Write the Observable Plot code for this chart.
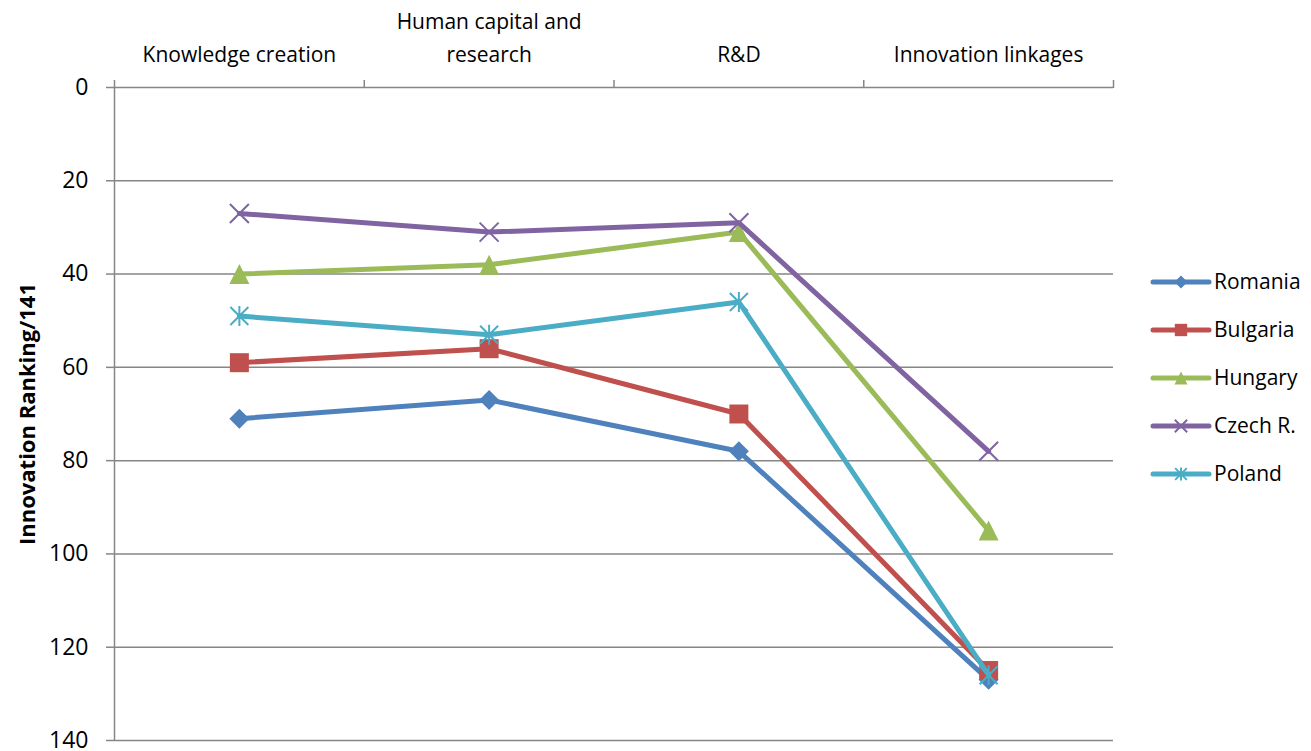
<!DOCTYPE html>
<html>
<head>
<meta charset="utf-8">
<script src="https://cdn.jsdelivr.net/npm/d3@7"></script>
<script src="https://cdn.jsdelivr.net/npm/@observablehq/plot@0.6"></script>
<style>
  html, body { margin: 0; padding: 0; background: #fff; }
  #wrap { position: relative; width: 1311px; height: 751px; font-family: "Open Sans", Lato, sans-serif; }
  #legend { position: absolute; left: 1140px; top: 258px; }
</style>
</head>
<body>
<div id="wrap"></div>
<script>
// ---- data ----
const categories = ["Knowledge creation", "Human capital and\nresearch", "R&D", "Innovation linkages"];
const countries = ["Romania", "Bulgaria", "Hungary", "Czech R.", "Poland"];
const romania  = [71, 67, 78, 127];
const bulgaria = [59, 56, 70, 125];
const hungary  = [40, 38, 31, 95];
const czech    = [27, 31, 29, 78];
const poland   = [49, 53, 46, 126];
const yTicks = [0, 20, 40, 60, 80, 100, 120, 140];
const colors = ["#4F81BD", "#C0504D", "#9BBB59", "#8064A2", "#4BACC6"];

const seriesValues = [romania, bulgaria, hungary, czech, poland];
const rows = seriesValues.flatMap((vals, s) =>
  vals.map((v, i) => ({country: countries[s], pos: i + 0.5, value: v})));

// ---- custom Excel-like marker shapes ----
const rad = size => Math.sqrt(size / Math.PI);
const symDiamond = {draw(c, size) { const r = rad(size); c.moveTo(0, -r); c.lineTo(r, 0); c.lineTo(0, r); c.lineTo(-r, 0); c.closePath(); }};
const symSquare = {draw(c, size) { const r = rad(size) * 0.95; c.moveTo(-r, -r); c.lineTo(r, -r); c.lineTo(r, r); c.lineTo(-r, r); c.closePath(); }};
const symTriangle = {draw(c, size) { const r = rad(size); c.moveTo(0, -r); c.lineTo(r, r); c.lineTo(-r, r); c.closePath(); }};
const symTimes = {draw(c, size) { const a = rad(size) * 0.95; c.moveTo(-a, -a); c.lineTo(a, a); c.moveTo(a, -a); c.lineTo(-a, a); }};
const symStar = {draw(c, size) { const r = rad(size); const a = r * 0.9; c.moveTo(-a, -a); c.lineTo(a, a); c.moveTo(a, -a); c.lineTo(-a, a); c.moveTo(0, -r); c.lineTo(0, r); }};
const symbols = [symDiamond, symSquare, symTriangle, symTimes, symStar];
const filled = [true, true, true, false, false];

const seriesMarks = countries.flatMap((name, s) => {
  const data = rows.filter(d => d.country === name);
  return [
    Plot.line(data, {x: "pos", y: "value", stroke: colors[s], strokeWidth: 5, strokeLinejoin: "round", strokeLinecap: "round"}),
    filled[s]
      ? Plot.dot(data, {x: "pos", y: "value", r: 10, symbol: symbols[s], fill: colors[s], stroke: "none"})
      : Plot.dot(data, {x: "pos", y: "value", r: 10, symbol: symbols[s], fill: "none", stroke: colors[s], strokeWidth: 2})
  ];
});

const font = "'Open Sans', Lato, sans-serif";
const grid = "#868686";
const chart = Plot.plot({
  width: 1311,
  height: 751,
  marginLeft: 114,
  marginRight: 198,
  marginTop: 87,
  marginBottom: 11,
  style: {fontFamily: font, color: "#000", background: "#fff"},
  x: {domain: [0, 4], axis: null},
  y: {domain: [0, 140], reverse: true, axis: null},
  marks: [
    Plot.ruleY(yTicks, {stroke: grid, strokeWidth: 1.5}),
    Plot.ruleX([0], {stroke: grid, strokeWidth: 1.5}),
    Plot.axisY({ticks: yTicks, tickSize: 8, tickPadding: 18, fontSize: 23, label: null, stroke: grid, strokeWidth: 1.5, fill: "#000"}),
    Plot.axisX({anchor: "top", ticks: [0, 1, 2, 3, 4], tickSize: 8, tickFormat: () => "", label: null, stroke: grid, strokeWidth: 1.5}),
    Plot.text(categories, {x: (d, i) => i + 0.5, y: () => 0, text: d => d, dy: -26, lineAnchor: "bottom", lineHeight: 1.55, fontSize: 21, fill: "#000"}),
    Plot.text(["Innovation Ranking/141"], {frameAnchor: "left", dx: -87, rotate: -90, textAnchor: "middle", lineAnchor: "middle", fontWeight: "bold", fontSize: 22, fill: "#000"}),
    ...seriesMarks
  ]
});
document.getElementById("wrap").appendChild(chart);

// ---- legend ----
const lg = d3.select("#wrap").append("svg").attr("id", "legend")
  .attr("width", 171).attr("height", 240);
countries.forEach((name, s) => {
  const y = 24 + s * 48;
  const g = lg.append("g");
  g.append("line").attr("x1", 13).attr("x2", 69).attr("y1", y).attr("y2", y)
    .attr("stroke", colors[s]).attr("stroke-width", 5).attr("stroke-linecap", "round");
  const p = g.append("path").attr("transform", `translate(41,${y})`)
    .attr("d", d3.symbol(symbols[s], Math.PI * 6.5 * 6.5)());
  if (filled[s]) p.attr("fill", colors[s]);
  else p.attr("fill", "none").attr("stroke", colors[s]).attr("stroke-width", 2);
  g.append("text").attr("x", 74).attr("y", y).attr("dy", "0.35em")
    .attr("font-size", 21).attr("fill", "#000").attr("font-family", font)
    .text(name);
});
</script>
</body>
</html>
